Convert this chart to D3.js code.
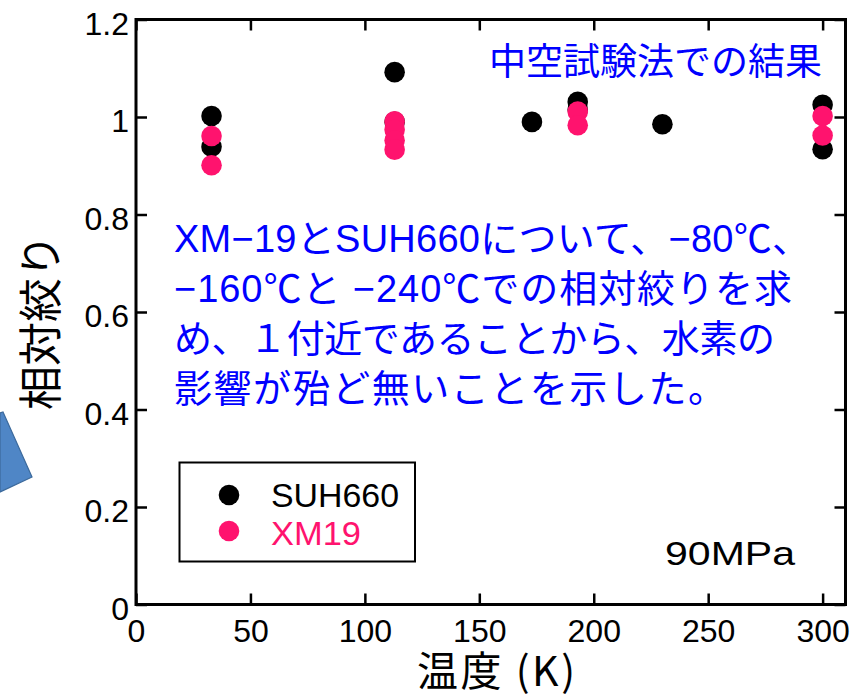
<!DOCTYPE html>
<html>
<head>
<meta charset="utf-8">
<script src="https://cdn.jsdelivr.net/npm/d3@7"></script>
<style>
  html, body { margin: 0; padding: 0; background: #fff; }
  svg { display: block; }
</style>
</head>
<body>
<svg id="chart" width="858" height="698"></svg>
<script>
// Temperature (K) ticks and relative reduction-of-area ticks
const xTicks = [0, 50, 100, 150, 200, 250, 300];
const yTicks = [0, 0.2, 0.4, 0.6, 0.8, 1.0, 1.2];
const yTickLabels = ["0", "0.2", "0.4", "0.6", "0.8", "1", "1.2"];

// SUH660 measurements
const suhTemps  = [33, 33, 113, 113, 173, 193, 193, 230, 300, 300];
const suhValues = [1.002, 0.939, 1.092, 0.990, 0.990, 1.031, 1.015, 0.985, 1.025, 0.934];

// XM19 measurements
const xmTemps  = [33, 33, 113, 113, 113, 113, 193, 193, 300, 300];
const xmValues = [0.961, 0.901, 0.991, 0.974, 0.952, 0.933, 1.011, 0.983, 1.002, 0.962];

const seriesNames = ["SUH660", "XM19"];
const seriesColors = ["#000000", "#FF136E"];

const noteLines = [
  "XM−19とSUH660について、−80℃、",
  "−160℃と −240℃での相対絞りを求",
  "め、１付近であることから、水素の",
  "影響が殆ど無いことを示した。"
];
const methodNote = "中空試験法での結果";
const stressNote = "90MPa";

const svg = d3.select("#chart");
const plotLeft = 136, plotRight = 845.5, plotTop = 19.5, plotBottom = 604.5;

const x = d3.scaleLinear().domain([0, 310]).range([plotLeft, plotRight]);
const y = d3.scaleLinear().domain([0, 1.2]).range([plotBottom, plotTop]);

const latin = "'Liberation Sans', Arial, 'Noto Sans CJK JP', sans-serif";
const cjk = "'Noto Sans CJK JP', 'Liberation Sans', sans-serif";

// decorative callout shape at the left edge
svg.append("polygon")
  .attr("points", "0,413 3,412 32,477 0,492")
  .attr("fill", "#4F86C6")
  .attr("stroke", "#3C6A9C")
  .attr("stroke-width", 1.2);

// axes with inward ticks on all four sides
function styleAxis(g) {
  g.select(".domain").remove();
  g.selectAll(".tick line").attr("stroke", "#000").attr("stroke-width", 2.5);
}

const xAxis = svg.append("g")
  .attr("transform", `translate(0,${plotBottom})`)
  .call(d3.axisBottom(x).tickValues(xTicks).tickSize(-11).tickPadding(0).tickFormat(d3.format("d")));
styleAxis(xAxis);
xAxis.selectAll(".tick text")
  .attr("y", 37.5).attr("dy", null)
  .attr("font-family", latin).attr("font-size", 32).attr("fill", "#000");

const yAxis = svg.append("g")
  .attr("transform", `translate(${plotLeft},0)`)
  .call(d3.axisLeft(y).tickValues(yTicks).tickSize(-11).tickPadding(0)
    .tickFormat((d, i) => yTickLabels[i]));
styleAxis(yAxis);
yAxis.selectAll(".tick text")
  .attr("x", -7).attr("dy", null).attr("y", 14.5)
  .attr("font-family", latin).attr("font-size", 32).attr("fill", "#000");

const xTop = svg.append("g")
  .attr("transform", `translate(0,${plotTop})`)
  .call(d3.axisTop(x).tickValues(xTicks).tickSize(-11).tickFormat(""));
styleAxis(xTop);

const yRight = svg.append("g")
  .attr("transform", `translate(${plotRight},0)`)
  .call(d3.axisRight(y).tickValues(yTicks).tickSize(-11).tickFormat(""));
styleAxis(yRight);

// plot frame
svg.append("rect")
  .attr("x", plotLeft).attr("y", plotTop)
  .attr("width", plotRight - plotLeft).attr("height", plotBottom - plotTop)
  .attr("fill", "none").attr("stroke", "#000").attr("stroke-width", 3);

// data points
const r = 10.3;
svg.append("g").selectAll("circle")
  .data(suhTemps.map((t, i) => [t, suhValues[i]]))
  .join("circle")
  .attr("cx", d => x(d[0])).attr("cy", d => y(d[1])).attr("r", r)
  .attr("fill", seriesColors[0]);

svg.append("g").selectAll("circle")
  .data(xmTemps.map((t, i) => [t, xmValues[i]]))
  .join("circle")
  .attr("cx", d => x(d[0])).attr("cy", d => y(d[1])).attr("r", r)
  .attr("fill", seriesColors[1]);

// axis titles
svg.append("text")
  .attr("transform", "translate(57,322) rotate(-90)")
  .attr("text-anchor", "middle")
  .attr("font-family", cjk).attr("font-size", 44).attr("fill", "#000")
  .text("相対絞り");

svg.append("text")
  .attr("x", 496).attr("y", 686)
  .attr("text-anchor", "middle")
  .attr("font-family", cjk).attr("font-size", 41).attr("fill", "#000")
  .attr("textLength", 158).attr("lengthAdjust", "spacing")
  .text("温度 (K)");

// legend
const legendWidths = [128, 90];
const lg = svg.append("g");
lg.append("rect")
  .attr("x", 179.5).attr("y", 462.5).attr("width", 235.5).attr("height", 99)
  .attr("fill", "#fff").attr("stroke", "#000").attr("stroke-width", 2);
seriesNames.forEach((name, i) => {
  lg.append("circle")
    .attr("cx", 229).attr("cy", 495 + i * 36).attr("r", r)
    .attr("fill", seriesColors[i]);
  lg.append("text")
    .attr("x", 271).attr("y", 507 + i * 37.5)
    .attr("font-family", latin).attr("font-size", 33)
    .attr("textLength", legendWidths[i]).attr("lengthAdjust", "spacingAndGlyphs")
    .attr("fill", seriesColors[i])
    .text(name);
});

// annotations
svg.append("text")
  .attr("x", 665).attr("y", 565)
  .attr("font-family", latin).attr("font-size", 33).attr("fill", "#000")
  .attr("textLength", 130).attr("lengthAdjust", "spacingAndGlyphs")
  .text(stressNote);

svg.append("text")
  .attr("x", 489).attr("y", 75)
  .attr("font-family", cjk).attr("font-size", 37).attr("fill", "#0000FF")
  .text(methodNote);

const noteLengths = [636, 618, 601, 552];
svg.append("g").selectAll("text")
  .data(noteLines)
  .join("text")
  .attr("x", 174).attr("y", (d, i) => 252 + i * 50)
  .attr("font-family", latin).attr("font-size", 38).attr("fill", "#0000FF")
  .attr("textLength", (d, i) => noteLengths[i]).attr("lengthAdjust", "spacing")
  .text(d => d);
</script>
</body>
</html>
